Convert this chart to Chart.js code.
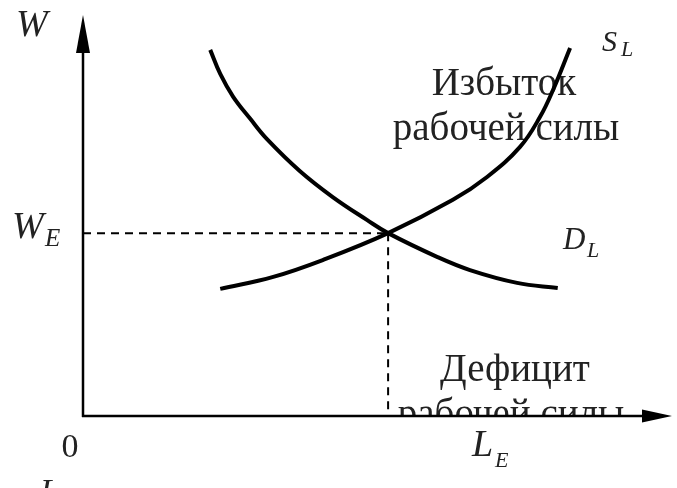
<!DOCTYPE html>
<html>
<head>
<meta charset="utf-8">
<script src="https://cdn.jsdelivr.net/npm/chart.js@4"></script>
<style>
  html, body { margin: 0; padding: 0; background: #fff; }
  canvas { display: block; }
</style>
</head>
<body>
<canvas id="laborChart" width="677" height="488"></canvas>
<script>
// labour demand curve D_L (quantity of labour, wage)
const demandL = [2.16, 2.33, 2.55, 2.84, 3.12, 3.68, 4.24, 4.82, 5.18, 6.01, 6.57, 7.37, 8.06];
const demandW = [9.13, 8.53, 7.96, 7.41, 6.91, 6.11, 5.46, 4.89, 4.56, 3.97, 3.64, 3.32, 3.19];

// labour supply curve S_L
const supplyL = [2.33, 3.23, 4.07, 5.18, 6.28, 6.86, 7.42, 7.76, 7.98, 8.27];
const supplyW = [3.17, 3.47, 3.89, 4.56, 5.39, 5.96, 6.71, 7.46, 8.13, 9.18];

// equilibrium
const equilibriumL = 5.18;
const equilibriumW = 4.56;

const xMax = 10;
const yMax = 10;

function toPoints(xs, ys) {
  return xs.map((v, i) => ({ x: v, y: ys[i] }));
}

const serif = '"Liberation Serif", "DejaVu Serif", serif';
const textColor = "#222";

// text and axes with arrowheads, drawn through the chart's scales
const axisArrows = {
  id: "axisArrows",
  beforeDatasetsDraw(chart) {
    const { ctx, scales } = chart;
    const y0 = scales.y.getPixelForValue(0);

    ctx.save();
    ctx.fillStyle = textColor;
    ctx.textBaseline = "alphabetic";
    ctx.textAlign = "center";
    ctx.font = "39px " + serif;
    ctx.fillText("Избыток", 504, 95);
    ctx.fillText("рабочей силы", 506, 140);
    ctx.fillText("Дефицит", 515, 381);

    // bottom line is cut by the axis
    ctx.save();
    ctx.beginPath();
    ctx.rect(0, 0, chart.width, y0);
    ctx.clip();
    ctx.fillText("рабочей силы", 511, 426);
    ctx.restore();
    ctx.restore();
  },
  afterDatasetsDraw(chart) {
    const { ctx, scales } = chart;
    const x = scales.x, y = scales.y;
    const x0 = x.getPixelForValue(0);
    const y0 = y.getPixelForValue(0);
    const xTip = x.getPixelForValue(xMax);
    const yTip = y.getPixelForValue(yMax);

    ctx.save();
    ctx.strokeStyle = "#000";
    ctx.fillStyle = "#000";
    ctx.lineWidth = 2.5;

    ctx.beginPath();
    ctx.moveTo(x0, y0 + 1);
    ctx.lineTo(x0, yTip + 10);
    ctx.moveTo(x0 - 1, y0);
    ctx.lineTo(xTip - 10, y0);
    ctx.stroke();

    // y arrow
    ctx.beginPath();
    ctx.moveTo(x0, yTip);
    ctx.lineTo(x0 - 7, yTip + 38);
    ctx.lineTo(x0 + 7, yTip + 38);
    ctx.closePath();
    ctx.fill();

    // x arrow
    ctx.beginPath();
    ctx.moveTo(xTip, y0);
    ctx.lineTo(xTip - 30, y0 - 6.5);
    ctx.lineTo(xTip - 30, y0 + 6.5);
    ctx.closePath();
    ctx.fill();

    // labels
    ctx.fillStyle = textColor;
    ctx.textAlign = "left";
    ctx.textBaseline = "alphabetic";
    const it = (size) => "italic " + size + "px " + serif;

    ctx.font = it(38);
    ctx.fillText("W", 16, 36);

    ctx.font = it(38);
    ctx.fillText("W", 12, 238);
    ctx.font = it(25);
    ctx.fillText("E", 45, 246);

    ctx.font = it(30);
    ctx.fillText("S", 602, 51);
    ctx.font = it(22);
    ctx.fillText("L", 621, 56);

    ctx.font = it(31);
    ctx.fillText("D", 563, 249);
    ctx.font = it(22);
    ctx.fillText("L", 587, 257);

    ctx.font = it(38);
    ctx.fillText("L", 472, 456);
    ctx.font = it(22);
    ctx.fillText("E", 495, 467);

    ctx.font = "34px " + serif;
    ctx.textAlign = "center";
    ctx.fillText("0", 70, 457);

    ctx.font = it(34);
    ctx.textAlign = "left";
    ctx.fillText("L", 40, 502);
    ctx.restore();
  }
};

const ctx = document.getElementById("laborChart").getContext("2d");

new Chart(ctx, {
  type: "scatter",
  data: {
    datasets: [
      {
        label: "WE",
        data: [{ x: 0, y: equilibriumW }, { x: equilibriumL, y: equilibriumW }],
        showLine: true,
        borderColor: "#000",
        borderWidth: 2,
        borderDash: [8, 6],
        pointRadius: 0,
      },
      {
        label: "LE",
        data: [{ x: equilibriumL, y: equilibriumW }, { x: equilibriumL, y: 0 }],
        showLine: true,
        borderColor: "#000",
        borderWidth: 2,
        borderDash: [8, 6],
        pointRadius: 0,
      },
      {
        label: "D_L",
        data: toPoints(demandL, demandW),
        showLine: true,
        borderColor: "#000",
        borderWidth: 4,
        tension: 0.4,
        pointRadius: 0,
      },
      {
        label: "S_L",
        data: toPoints(supplyL, supplyW),
        showLine: true,
        borderColor: "#000",
        borderWidth: 4,
        tension: 0.4,
        pointRadius: 0,
      },
    ],
  },
  options: {
    responsive: false,
    animation: false,
    devicePixelRatio: 1,
    layout: {
      padding: { left: 83, right: 5, top: 15, bottom: 72 },
    },
    scales: {
      x: { type: "linear", min: 0, max: xMax, display: false },
      y: { type: "linear", min: 0, max: yMax, display: false },
    },
    plugins: {
      legend: { display: false },
      tooltip: { enabled: false },
    },
  },
  plugins: [axisArrows],
});
</script>
</body>
</html>
